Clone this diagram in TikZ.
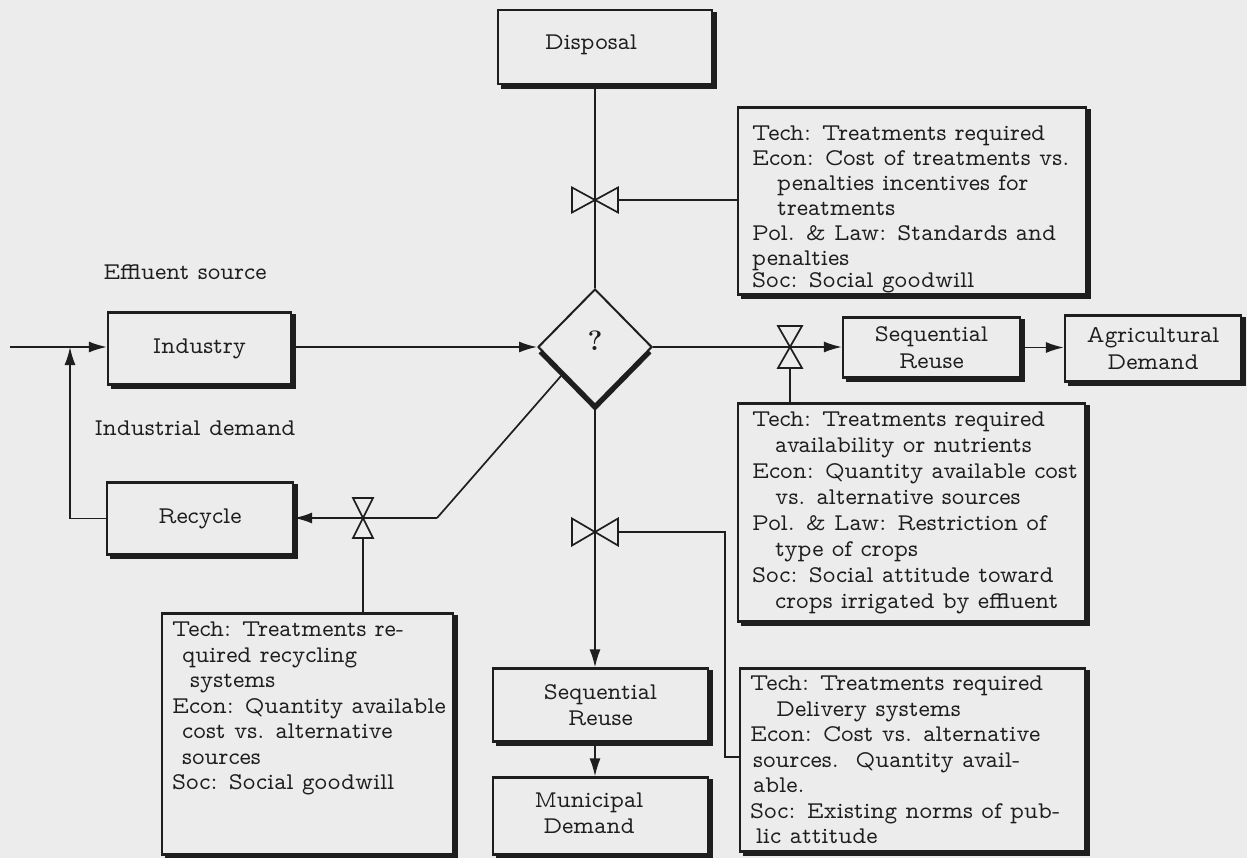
\documentclass[tikz,border=0pt]{standalone}
\usetikzlibrary{arrows.meta,shapes.geometric,calc}
\definecolor{paperc}{RGB}{236,236,236}
\definecolor{inkc}{RGB}{30,30,30}
\newcommand\typeface{\fontfamily{lmvtt}\selectfont}
\begin{document}
\begin{tikzpicture}[x=1pt,y=-1pt,
  every node/.style={text=inkc},
  wire/.style={draw=inkc,line width=1.7pt},
  flow/.style={wire,-{Latex[length=18pt,width=11pt]}},
  box/.style={draw=inkc,line width=2.2pt,inner sep=0pt,align=center,
    font=\typeface\fontsize{24}{26.5}\selectfont},
  note/.style={anchor=north west,inner sep=0pt,align=left,
    font=\typeface\fontsize{24}{25.5}\selectfont},
  freetext/.style={inner sep=0pt,align=center,font=\typeface\fontsize{24}{26.5}\selectfont},
  drop/.style={draw=inkc,line width=4pt},
  valve/.style={inner sep=0pt,outer sep=0pt},
  bow/.style={wire,fill=paperc,line join=miter}]

\fill[paperc] (0,0) rectangle (1247,858);
\useasboundingbox (0,0) rectangle (1247,858);

% boxes with flow stages
\node[box,minimum width=214pt,minimum height=74pt] (disp) at (605,47) {};
\node[freetext] (dispt) at (591,45) {Disposal};
\node[box,minimum width=183pt,minimum height=72pt] (ind) at (199.5,348.5) {Industry};
\node[box,minimum width=186pt,minimum height=72pt] (rec) at (200,518.5) {Recycle};
\node[box,minimum width=215pt,minimum height=73pt] (seqL) at (600.5,705) {Sequential\\Reuse};
\node[box,minimum width=215pt,minimum height=77pt] (mun) at (600.5,816) {};
\node[freetext] (munt) at (589,813) {Municipal\\Demand};
\node[box,minimum width=177pt,minimum height=60pt] (seqR) at (931.5,347.5) {Sequential\\Reuse};
\node[box,minimum width=176pt,minimum height=66pt] (agr) at (1153,348.5) {Agricultural\\Demand};

% boxes holding the criteria
\node[box,minimum width=348pt,minimum height=187pt] (B1) at (912,201) {};
\node[box,minimum width=347pt,minimum height=218pt] (B3) at (911.5,512.5) {};
\node[box,minimum width=345pt,minimum height=183pt] (B4) at (912.5,760) {};
\node[box,minimum width=291pt,minimum height=241pt] (B2) at (307.5,734) {};

% decision point
\node[diamond,draw=inkc,line width=2pt,minimum width=114pt,minimum height=116pt,inner sep=0pt] (dec) at (595,347) {};
\node[inner sep=0pt,font=\bfseries\fontsize{28}{28}\selectfont] (qm) at (595,341) {?};

% heavy lower and right edges
\foreach \n in {disp,ind,rec,seqL,mun,seqR,agr,B1,B2,B3,B4}
  \draw[drop] ([xshift=1.5pt,yshift=-3pt]\n.north east) -- ([xshift=1.5pt,yshift=-1.5pt]\n.south east) -- ([xshift=4pt,yshift=-1.5pt]\n.south west);
\draw[drop] ([xshift=3pt,yshift=-5pt]dec.west) -- ([yshift=-2pt]dec.south) -- ([xshift=-3pt,yshift=-5pt]dec.east);

% criteria text
\node[note,font=\typeface\fontsize{24}{25}\selectfont] (B1t) at (752,126) {Tech: Treatments required\\
Econ: Cost of treatments vs.\\
\hspace*{25pt}penalties incentives for\\
\hspace*{25pt}treatments\\
Pol. \& Law: Standards and\\
penalties\\[-3pt]
Soc: Social goodwill};

\node[note,font=\typeface\fontsize{24}{26}\selectfont] (B3t) at (752,412) {Tech: Treatments required\\
\hspace*{23pt}availability or nutrients\\
Econ: Quantity available cost\\
\hspace*{23pt}vs. alternative sources\\
Pol. \& Law: Restriction of\\
\hspace*{23pt}type of crops\\
Soc: Social attitude toward\\
\hspace*{23pt}crops irrigated by effluent};

\node[note] (B4t) at (750,676) {Tech: Treatments required\\
\hspace*{26pt}Delivery systems\\
Econ: Cost vs. alternative\\
\hspace*{3pt}sources.\ \ Quantity avail-\\
\hspace*{3pt}able.\\
Soc: Existing norms of pub-\\
\hspace*{6pt}lic attitude};

\node[note] (B2t) at (172,622) {Tech: Treatments re-\\
\hspace*{10pt}quired recycling\\
\hspace*{18pt}systems\\
Econ: Quantity available\\
\hspace*{10pt}cost vs. alternative\\
\hspace*{10pt}sources\\
Soc: Social goodwill};

\node[freetext] (eff) at (185,272) {Effluent source};
\node[freetext] (idm) at (195,428) {Industrial demand};

% valves
\node[valve,minimum width=46pt,minimum height=25pt] (v1) at (595,200) {};
\node[valve,minimum width=24pt,minimum height=42pt] (v2) at (790,347) {};
\node[valve,minimum width=46pt,minimum height=27pt] (v3) at (595,532) {};
\node[valve,minimum width=20pt,minimum height=40pt] (v4) at (363,518) {};

% connectors
\coordinate (src) at (10,347);
\coordinate (jn) at (70,347);
\coordinate (k1) at (725,757);
\coordinate (dg) at (437,518);
\draw[wire] (disp.south -| dec.north) -- (dec.north);
\draw[wire] (v1.east) -- (v1.east -| B1.west);
\draw[flow] (src) -- (src -| ind.west);
\draw[flow] (rec.west) -| (jn);
\draw[flow] (dec.west -| ind.east) -- (dec.west);
\draw[flow] (dec.east) -- (dec.east -| seqR.west);
\draw[wire] (v2.south) -- (v2.south |- B3.north);
\draw[flow] (seqR.east) -- (seqR.east -| agr.west);
\draw[flow] (dec.south) -- (dec.south |- seqL.north);
\draw[flow] (seqL.south -| dec.south) -- (mun.north -| dec.south);
\draw[wire] (v3.east) -| (k1) -- (k1 -| B4.west);
\draw[wire] (dg) -- ($(dec.west)!0.45!(dec.south)$);
\draw[flow] (dg) -- (dg -| rec.east);
\draw[wire] (v4.south) -- (v4.south |- B2.north);

\foreach \v in {v1,v3}
  \draw[bow] (\v.north west) -- (\v.south east) -- (\v.north east) -- (\v.south west) -- cycle;
\foreach \v in {v2,v4}
  \draw[bow] (\v.north west) -- (\v.north east) -- (\v.south west) -- (\v.south east) -- cycle;
\end{tikzpicture}
\end{document}
